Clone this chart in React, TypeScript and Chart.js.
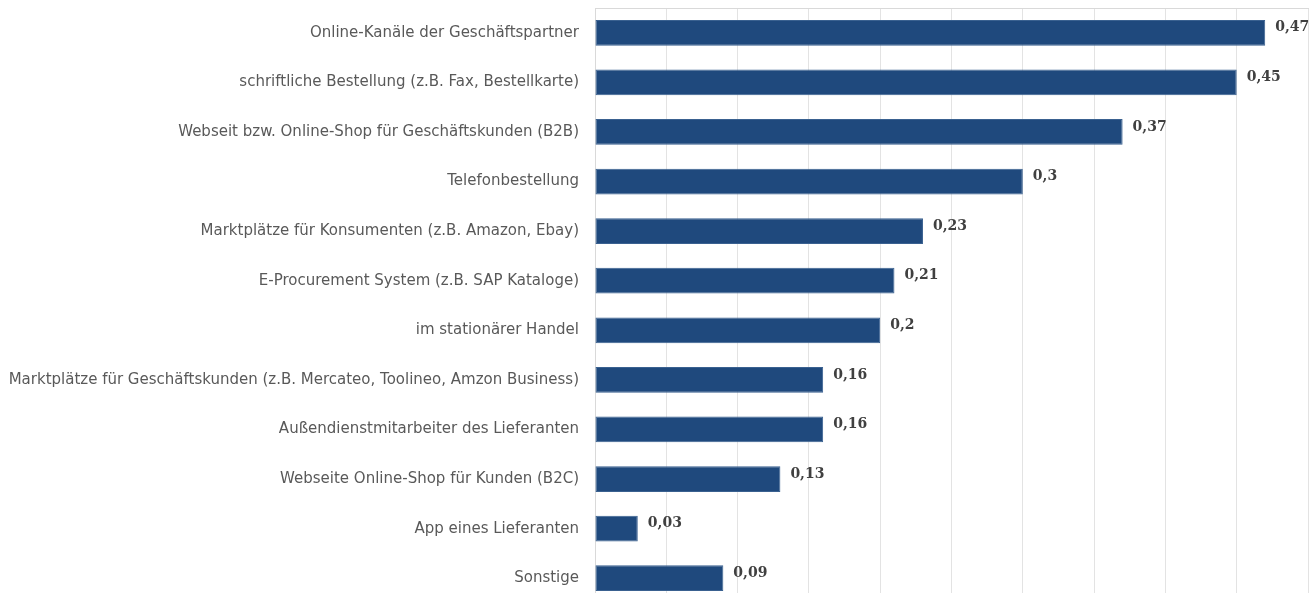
import React, { useEffect, useRef } from "react";
import { Chart, registerables } from "chart.js";

Chart.register(...registerables);

const categories: string[] = [
  "Online-Kanäle der Geschäftspartner",
  "schriftliche Bestellung (z.B. Fax, Bestellkarte)",
  "Webseit bzw. Online-Shop für Geschäftskunden (B2B)",
  "Telefonbestellung",
  "Marktplätze für Konsumenten (z.B. Amazon, Ebay)",
  "E-Procurement System (z.B. SAP Kataloge)",
  "im stationärer Handel",
  "Marktplätze für Geschäftskunden (z.B. Mercateo, Toolineo, Amzon Business)",
  "Außendienstmitarbeiter des Lieferanten",
  "Webseite Online-Shop für Kunden (B2C)",
  "App eines Lieferanten",
  "Sonstige",
];

const values: number[] = [0.47, 0.45, 0.37, 0.3, 0.23, 0.21, 0.2, 0.16, 0.16, 0.13, 0.03, 0.09];

const xMin = 0;
const xMax = 0.5;
const xStep = 0.05;

const valueLabelPlugin = {
  id: "valueLabels",
  afterDatasetsDraw(chart: any) {
    const ctx = chart.ctx;
    const meta = chart.getDatasetMeta(0);
    ctx.save();
    ctx.font = "bold 14px 'DejaVu Serif'";
    ctx.fillStyle = "#404040";
    ctx.textAlign = "left";
    ctx.textBaseline = "middle";
    meta.data.forEach((bar: any, i: number) => {
      const txt = String(values[i]).replace(".", ",");
      ctx.fillText(txt, bar.x + 10, bar.y - 5);
    });
    ctx.restore();
  },
};

export default function App() {
  const ref = useRef<HTMLCanvasElement | null>(null);

  useEffect(() => {
    if (!ref.current) return;
    const chart = new Chart(ref.current, {
      type: "bar",
      data: {
        labels: categories,
        datasets: [
          {
            data: values,
            backgroundColor: "#1F497D",
            borderColor: "#3A6190",
            borderWidth: 1,
            borderSkipped: false,
            categoryPercentage: 1,
            barPercentage: 0.52,
          },
        ],
      },
      options: {
        indexAxis: "y",
        animation: false,
        responsive: false,
        maintainAspectRatio: false,
        layout: { padding: { left: 0, right: 1, top: 0, bottom: 0 } },
        plugins: {
          legend: { display: false },
          tooltip: { enabled: false },
          title: { display: false },
        },
        scales: {
          x: {
            position: "top",
            min: xMin,
            max: xMax,
            ticks: { display: false, stepSize: xStep },
            grid: { color: "#E3E3E3", lineWidth: 1, drawTicks: false },
            border: { display: true, color: "#D9D9D9", width: 1 },
            afterFit(scale: any) {
              scale.height = 8;
            },
          },
          y: {
            ticks: {
              color: "#595959",
              font: { family: "'DejaVu Sans'", size: 15 },
              padding: 16,
              autoSkip: false,
            },
            grid: { display: false, drawTicks: false },
            border: { display: true, color: "#D9D9D9", width: 1 },
            afterFit(scale: any) {
              scale.width = 595;
              scale.paddingTop = 0;
              scale.paddingBottom = 0;
            },
          },
        },
      },
      plugins: [valueLabelPlugin],
    });
    return () => chart.destroy();
  }, []);

  return (
    <div
      style={{
        position: "fixed",
        left: 0,
        top: 0,
        width: 1309,
        height: 593,
        overflow: "hidden",
        background: "#fff",
      }}
    >
      <canvas
        ref={ref}
        width={1309}
        height={603}
        style={{ width: 1309, height: 603, display: "block" }}
      />
    </div>
  );
}
